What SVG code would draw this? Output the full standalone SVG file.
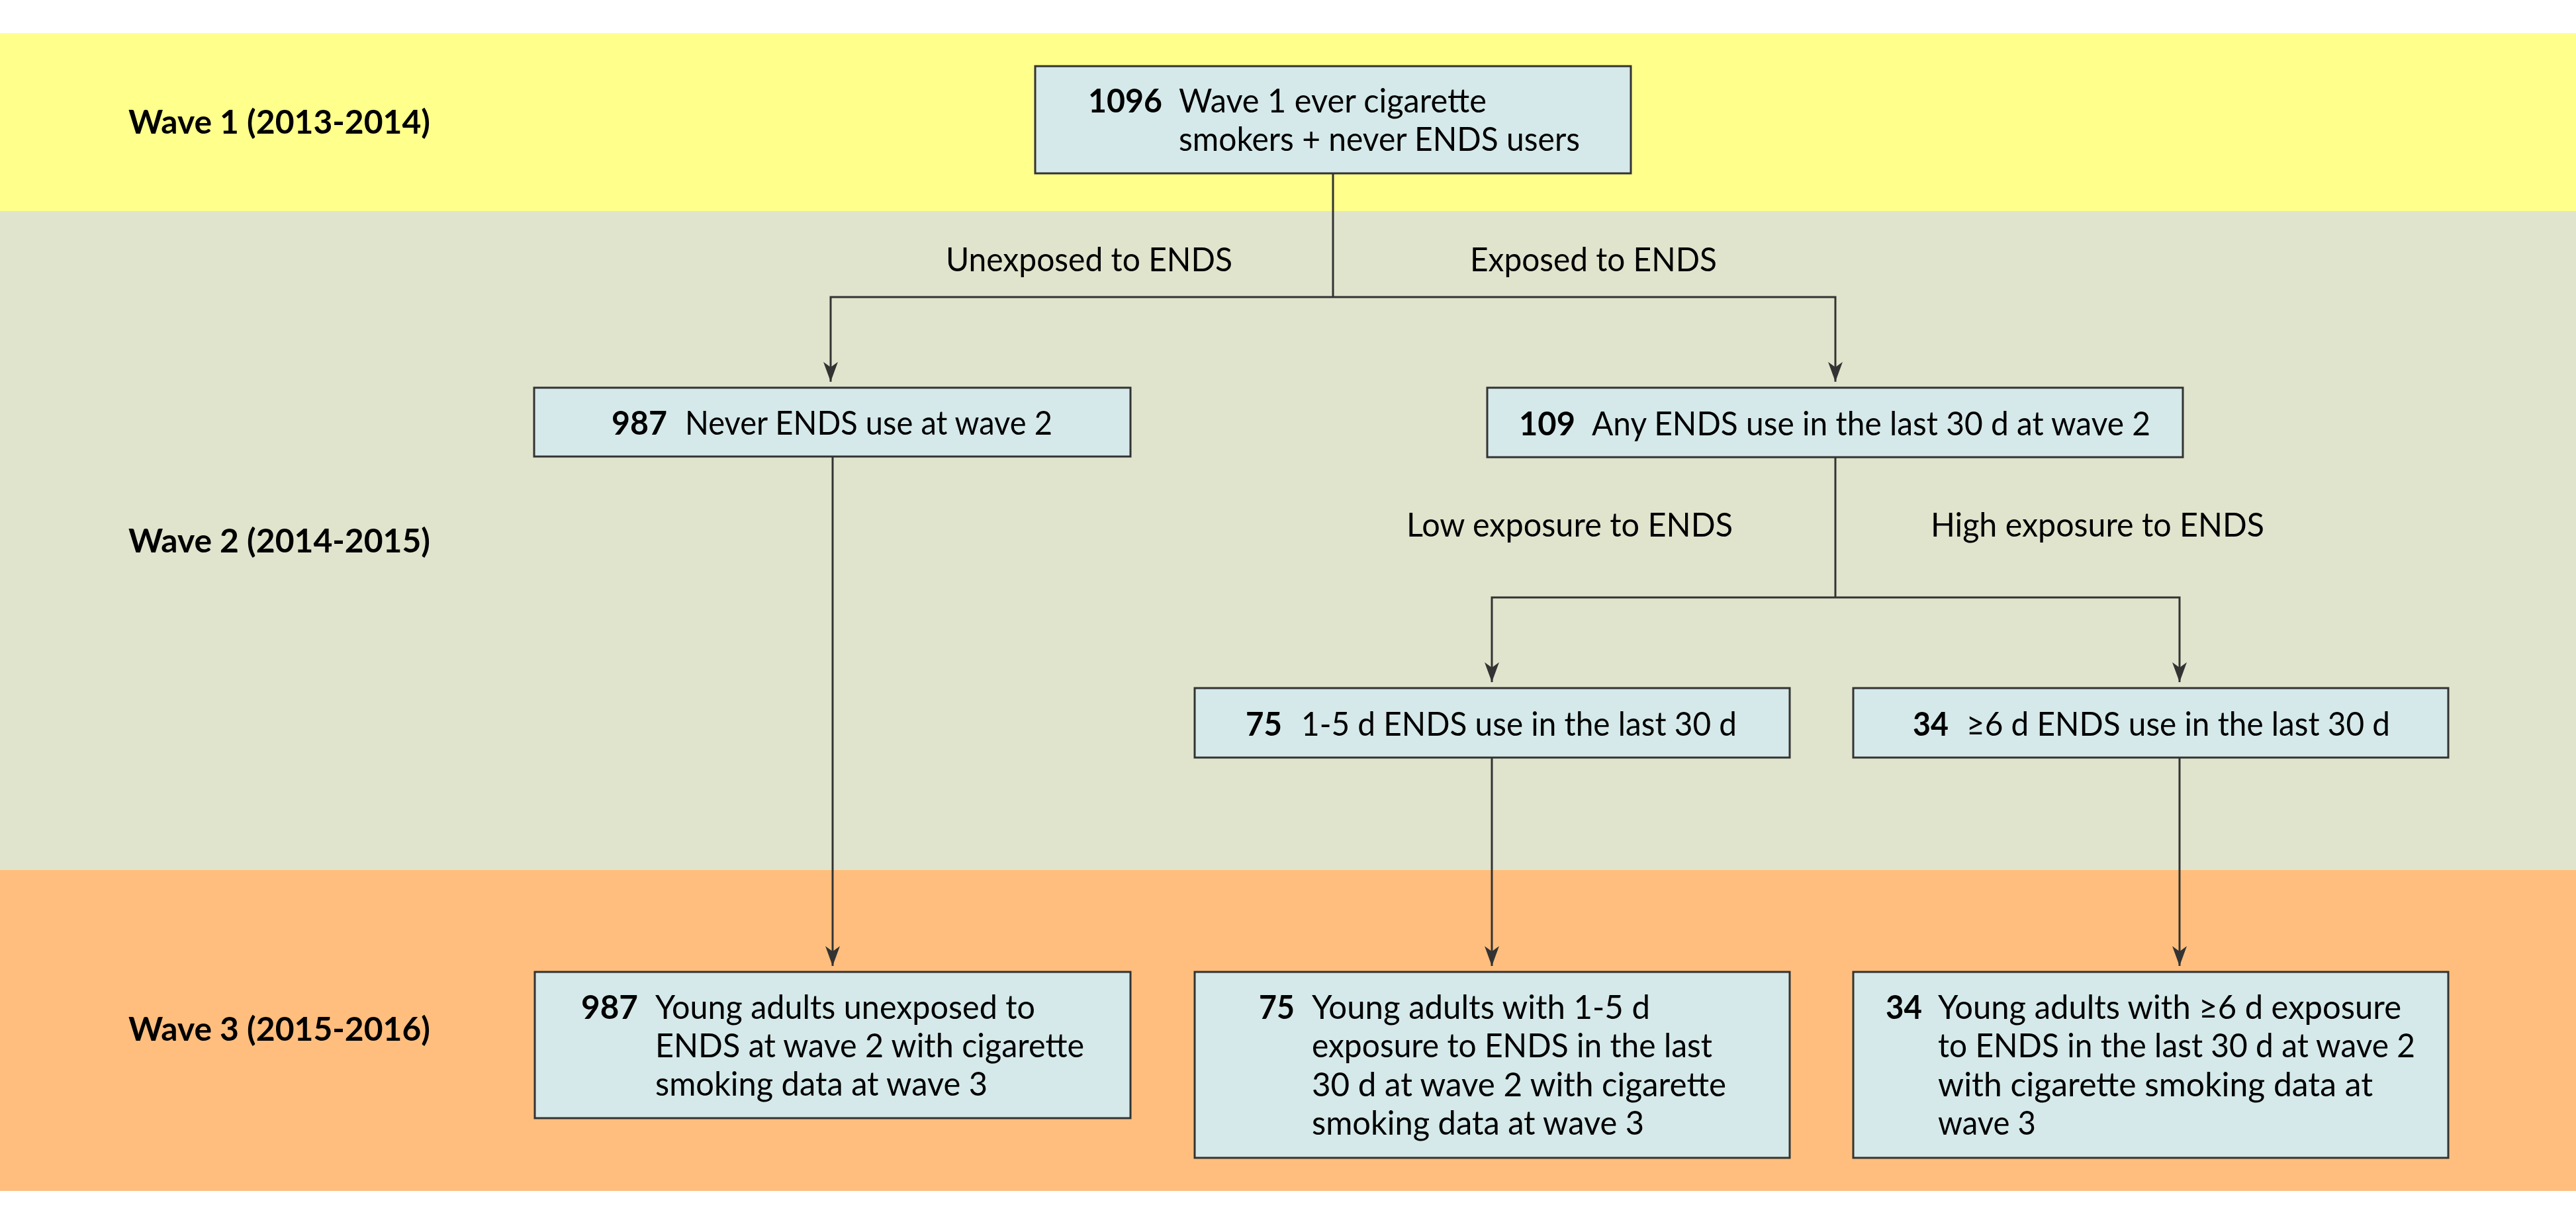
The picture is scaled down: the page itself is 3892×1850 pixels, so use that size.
<svg xmlns="http://www.w3.org/2000/svg" width="3892" height="1850" viewBox="0 0 3892 1850">
<defs>
<style>
.band1{fill:#FFFF8C}
.band2{fill:#E0E4CD}
.band3{fill:#FFBE7D}
.box{fill:#D5E9EA;stroke:#333333;stroke-width:3}
.t{font-family:Lato,"Open Sans","Liberation Sans",sans-serif;font-size:50px;fill:#000}
.b{font-family:Lato,"Open Sans","Liberation Sans",sans-serif;font-size:50px;font-weight:bold;fill:#000}
.ln{fill:none;stroke:#333333;stroke-width:3}
.ar{fill:none;stroke:#333333;stroke-width:3;marker-end:url(#ah)}
</style>
<marker id="ah" markerUnits="userSpaceOnUse" markerWidth="32" markerHeight="24" refX="30" refY="12" orient="auto" viewBox="0 0 32 24">
<path d="M0,1 L30,12 L0,23 L8,12 Z" fill="#333333"/>
</marker>
</defs>
<rect x="0" y="0" width="3892" height="1850" fill="#FFFFFF"/>
<g id="bands">
<rect class="band1" x="0" y="50" width="3892" height="269"/>
<rect class="band2" x="0" y="319" width="3892" height="996"/>
<rect class="band3" x="0" y="1315" width="3892" height="485"/>
<text class="b" x="194" y="202" textLength="456" lengthAdjust="spacingAndGlyphs">Wave 1 (2013-2014)</text>
<text class="b" x="194" y="835" textLength="456" lengthAdjust="spacingAndGlyphs">Wave 2 (2014-2015)</text>
<text class="b" x="194" y="1573" textLength="456" lengthAdjust="spacingAndGlyphs">Wave 3 (2015-2016)</text>
</g>
<g id="connectors">
<path class="ln" d="M2014,262 V449"/>
<path class="ar" d="M2014,449 H1255 V577"/>
<path class="ar" d="M2014,449 H2773 V577"/>
<path class="ar" d="M1258,690 V1460"/>
<path class="ln" d="M2773,691 V903"/>
<path class="ar" d="M2773,903 H2254 V1031"/>
<path class="ar" d="M2773,903 H3293 V1031"/>
<path class="ar" d="M2254,1145 V1460"/>
<path class="ar" d="M3293,1145 V1460"/>
<text class="t" x="1429" y="410" textLength="433" lengthAdjust="spacingAndGlyphs">Unexposed to ENDS</text>
<text class="t" x="2221" y="410" textLength="373" lengthAdjust="spacingAndGlyphs">Exposed to ENDS</text>
<text class="t" x="2125" y="811" textLength="493" lengthAdjust="spacingAndGlyphs">Low exposure to ENDS</text>
<text class="t" x="2917" y="811" textLength="504" lengthAdjust="spacingAndGlyphs">High exposure to ENDS</text>
</g>
<g id="n1096">
<rect class="box" x="1564" y="100" width="900" height="162"/>
<text class="b" x="1644" y="170" textLength="112" lengthAdjust="spacingAndGlyphs">1096</text>
<text class="t" x="1781" y="170" textLength="465" lengthAdjust="spacingAndGlyphs">Wave 1 ever cigarette</text>
<text class="t" x="1781" y="228" textLength="606" lengthAdjust="spacingAndGlyphs">smokers + never ENDS users</text>
</g>
<g id="n987a">
<rect class="box" x="807" y="586" width="901" height="104"/>
<text class="b" x="924" y="657" textLength="84" lengthAdjust="spacingAndGlyphs">987</text>
<text class="t" x="1035" y="657" textLength="555" lengthAdjust="spacingAndGlyphs">Never ENDS use at wave 2</text>
</g>
<g id="n109">
<rect class="box" x="2247" y="586" width="1051" height="105"/>
<text class="b" x="2295" y="658" textLength="85" lengthAdjust="spacingAndGlyphs">109</text>
<text class="t" x="2405" y="658" textLength="844" lengthAdjust="spacingAndGlyphs">Any ENDS use in the last 30 d at wave 2</text>
</g>
<g id="n75a">
<rect class="box" x="1805" y="1040" width="899" height="105"/>
<text class="b" x="1882" y="1112" textLength="55" lengthAdjust="spacingAndGlyphs">75</text>
<text class="t" x="1966" y="1112" textLength="658" lengthAdjust="spacingAndGlyphs">1-5 d ENDS use in the last 30 d</text>
</g>
<g id="n34a">
<rect class="box" x="2800" y="1040" width="899" height="105"/>
<text class="b" x="2890" y="1112" textLength="54" lengthAdjust="spacingAndGlyphs">34</text>
<text class="t" x="2971" y="1112" textLength="640" lengthAdjust="spacingAndGlyphs">≥6 d ENDS use in the last 30 d</text>
</g>
<g id="n987b">
<rect class="box" x="808" y="1469" width="900" height="221"/>
<text class="b" x="878" y="1540" textLength="86" lengthAdjust="spacingAndGlyphs">987</text>
<text class="t" x="990" y="1540" textLength="574" lengthAdjust="spacingAndGlyphs">Young adults unexposed to</text>
<text class="t" x="990" y="1598" textLength="648" lengthAdjust="spacingAndGlyphs">ENDS at wave 2 with cigarette</text>
<text class="t" x="990" y="1656" textLength="502" lengthAdjust="spacingAndGlyphs">smoking data at wave 3</text>
</g>
<g id="n75b">
<rect class="box" x="1805" y="1469" width="899" height="281"/>
<text class="b" x="1902" y="1540" textLength="54" lengthAdjust="spacingAndGlyphs">75</text>
<text class="t" x="1982" y="1540" textLength="511" lengthAdjust="spacingAndGlyphs">Young adults with 1-5 d</text>
<text class="t" x="1982" y="1598" textLength="605" lengthAdjust="spacingAndGlyphs">exposure to ENDS in the last</text>
<text class="t" x="1982" y="1657" textLength="626" lengthAdjust="spacingAndGlyphs">30 d at wave 2 with cigarette</text>
<text class="t" x="1982" y="1715" textLength="502" lengthAdjust="spacingAndGlyphs">smoking data at wave 3</text>
</g>
<g id="n34b">
<rect class="box" x="2800" y="1469" width="899" height="281"/>
<text class="b" x="2849" y="1540" textLength="55" lengthAdjust="spacingAndGlyphs">34</text>
<text class="t" x="2928" y="1540" textLength="700" lengthAdjust="spacingAndGlyphs">Young adults with ≥6 d exposure</text>
<text class="t" x="2928" y="1598" textLength="721" lengthAdjust="spacingAndGlyphs">to ENDS in the last 30 d at wave 2</text>
<text class="t" x="2928" y="1657" textLength="657" lengthAdjust="spacingAndGlyphs">with cigarette smoking data at</text>
<text class="t" x="2928" y="1715" textLength="148" lengthAdjust="spacingAndGlyphs">wave 3</text>
</g>
</svg>
